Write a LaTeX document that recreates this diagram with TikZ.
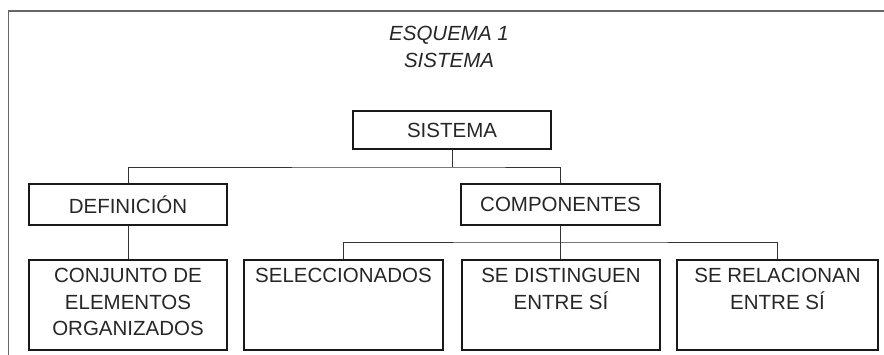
\documentclass[tikz,border=0pt]{standalone}
\usepackage{fontspec}
\setmainfont{Liberation Sans}
\begin{document}
\begin{tikzpicture}[x=1pt,y=-1pt,
  bx/.style={draw=black!90,line width=2pt,rectangle,inner sep=0pt,anchor=north west},
  lbl/.style={inner sep=0pt,align=center,font=\fontsize{20.5}{26.5}\selectfont,text=black!85},
  ttl/.style={inner sep=0pt,font=\fontsize{20.5}{25}\selectfont\itshape,text=black!85},
  con/.style={draw=black!80,line width=0.9pt}]
\useasboundingbox (0,0) rectangle (884,355);
\draw[draw=black!60,line width=1.1pt] (8.5,11) rectangle (900,380);
\node[ttl] (t1) at (449,35) {ESQUEMA 1};
\node[ttl] (t2) at (449,60) {SISTEMA};
% boxes
\node[bx,minimum width=198,minimum height=38] (sis) at (352,110) {};
\node[lbl] at (sis.center) {SISTEMA};
\node[bx,minimum width=198,minimum height=41] (def) at (28,183) {};
\node[lbl] at (def.center) {DEFINICIÓN};
\node[bx,minimum width=199,minimum height=41] (comp) at (460,183) {};
\node[lbl] at (comp.center) {COMPONENTES};
\node[bx,minimum width=198,minimum height=90] (conj) at (28,259) {};
\node[lbl,anchor=north] at ([yshift=-9pt]conj.north) {CONJUNTO DE\\ELEMENTOS\\ORGANIZADOS};
\node[bx,minimum width=199,minimum height=90] (sel) at (243,259) {};
\node[lbl,anchor=north] at ([yshift=-9pt]sel.north) {SELECCIONADOS};
\node[bx,minimum width=198,minimum height=90] (dist) at (461,259) {};
\node[lbl,anchor=north] at ([yshift=-9pt]dist.north) {SE DISTINGUEN\\ENTRE SÍ};
\node[bx,minimum width=201,minimum height=90] (rel) at (676,259) {};
\node[lbl,anchor=north] at ([yshift=-9pt]rel.north) {SE RELACIONAN\\ENTRE SÍ};
% connectors
\coordinate (j1) at (sis.south |- 0,167);
\coordinate (j2) at (comp.south |- 0,242);
\draw[con] (sis.south) -- (j1);
\draw[con] (def.north) |- (j1) -| (comp.north);
\draw[con] (def.south) -- (conj.north);
\draw[con] (comp.south) -- (comp.south |- dist.north);
\draw[con] (sel.north) |- (j2) -| (rel.north);
\end{tikzpicture}
\end{document}
